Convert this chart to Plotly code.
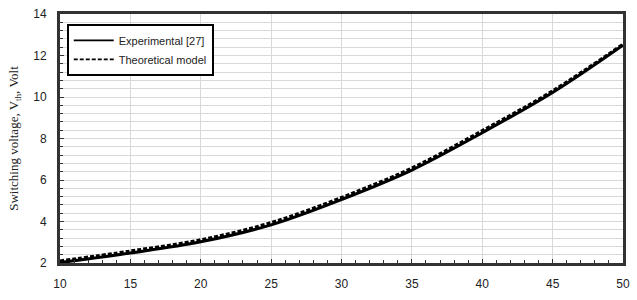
import plotly.graph_objects as go

x_vals = [10, 15, 20, 25, 30, 35, 40, 45, 50]
experimental = [2.02, 2.48, 3.02, 3.84, 5.06, 6.48, 8.28, 10.22, 12.50]
theoretical = [2.10, 2.58, 3.12, 3.95, 5.16, 6.58, 8.38, 10.30, 12.55]
series_names = ["Experimental [27]", "Theoretical model"]

fig = go.Figure()
fig.add_trace(go.Scatter(x=x_vals, y=experimental, mode="lines", showlegend=False,
                         line=dict(color="black", width=3, shape="spline", smoothing=1.0)))
fig.add_trace(go.Scatter(x=x_vals, y=theoretical, mode="lines", showlegend=False,
                         line=dict(color="black", width=3, dash="4px,2px", shape="spline", smoothing=1.0)))
# legend entries with thinner sample lines
fig.add_trace(go.Scatter(x=[None], y=[None], mode="lines", name=series_names[0],
                         line=dict(color="black", width=1.8)))
fig.add_trace(go.Scatter(x=[None], y=[None], mode="lines", name=series_names[1],
                         line=dict(color="black", width=1.8, dash="4px,2px")))

fig.update_layout(
    width=637, height=300,
    margin=dict(l=60, r=10, t=7, b=37),
    paper_bgcolor="white", plot_bgcolor="white",
    font=dict(family="Arial, Liberation Sans", size=12, color="#222"),
    legend=dict(x=0.012, y=0.96, xanchor="left", yanchor="top",
                bordercolor="black", borderwidth=2, bgcolor="white",
                font=dict(size=11, color="#222"), itemwidth=40,
                tracegroupgap=5),
    showlegend=True,
)
fig.update_xaxes(range=[10, 50], dtick=5, tick0=10,
                 showgrid=True, gridcolor="#d9d9d9", gridwidth=1,
                 showline=True, linewidth=3, linecolor="#333", mirror=True,
                 ticks="inside", ticklen=4, tickcolor="#333",
                 ticklabelstandoff=8,
                 minor=dict(dtick=1, ticks="inside", ticklen=3, tickcolor="#333", showgrid=False),
                 zeroline=False)
fig.update_yaxes(range=[2, 14], dtick=2, tick0=2,
                 showgrid=True, gridcolor="#d9d9d9", gridwidth=1,
                 showline=True, linewidth=3, linecolor="#333", mirror=True,
                 ticks="inside", ticklen=4, tickcolor="#333",
                 ticklabelstandoff=8,
                 minor=dict(dtick=0.4, tick0=2, ticks="inside", ticklen=3, tickcolor="#333",
                            showgrid=True, gridcolor="#d9d9d9", gridwidth=1),
                 zeroline=False,
                 title=dict(text="Switching voltage, V<sub>th</sub>, Volt",
                            font=dict(family="Liberation Serif, Times New Roman", size=13, color="#222"),
                            standoff=12))

fig.write_html("out.html")
